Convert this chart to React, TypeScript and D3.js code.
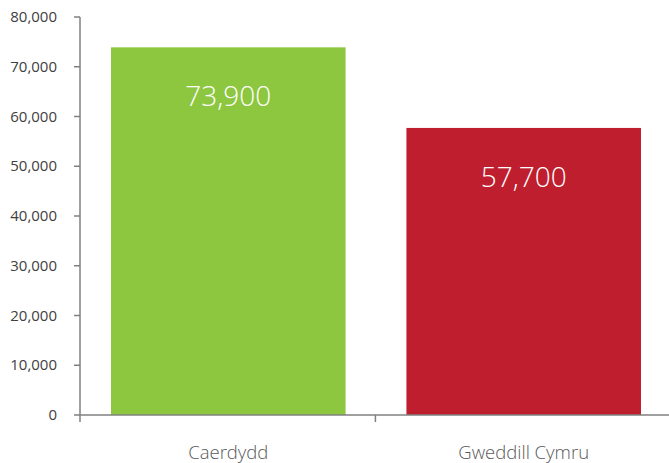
import React from "react";
import * as d3 from "d3";

const categories = ["Caerdydd", "Gweddill Cymru"];
const values = [73900, 57700];
const colors = ["#8dc63f", "#be1e2d"];
const yTicks = [0, 10000, 20000, 30000, 40000, 50000, 60000, 70000, 80000];

export default function App() {
  const W = 669, H = 463;
  const x = d3.scaleBand<string>().domain(categories).range([80, 672]).paddingInner(0.206).paddingOuter(0.105);
  const y = d3.scaleLinear().domain([0, 80000]).range([415, 17]);
  const fmt = d3.format(",");
  const font = "'Open Sans', sans-serif";
  const step = x.step();
  return (
    <svg width={W} height={H} style={{ position: "absolute", left: 0, top: 0 }}>
      {categories.map((c, i) => (
        <g key={c}>
          <rect x={x(c)} y={y(values[i])} width={x.bandwidth()} height={y(0) - y(values[i])} fill={colors[i]} />
          <text x={(x(c) as number) + x.bandwidth() / 2} y={y(values[i]) + 59} textAnchor="middle" fill="#fff" fontSize={28} fontWeight={300} fontFamily={font}>{fmt(values[i])}</text>
          <text x={(x(c) as number) + x.bandwidth() / 2} y={459} textAnchor="middle" fill="#595959" fontSize={18.5} fontWeight={300} fontFamily={font}>{c}</text>
        </g>
      ))}
      <line x1={80} x2={80} y1={y(80000)} y2={422} stroke="#808080" strokeWidth={1.5} />
      {yTicks.map(t => (
        <g key={t}>
          <line x1={74} x2={80} y1={y(t)} y2={y(t)} stroke="#808080" strokeWidth={1.5} />
          <text x={57} y={y(t) + 5} textAnchor="end" fill="#404040" fontSize={15} fontFamily={font}>{fmt(t)}</text>
        </g>
      ))}
      <line x1={80} x2={669} y1={y(0)} y2={y(0)} stroke="#808080" strokeWidth={1.5} />
      {[1].map(k => (
        <line key={k} x1={80 + step * k} x2={80 + step * k} y1={y(0)} y2={422} stroke="#808080" strokeWidth={1.5} />
      ))}
    </svg>
  );
}
